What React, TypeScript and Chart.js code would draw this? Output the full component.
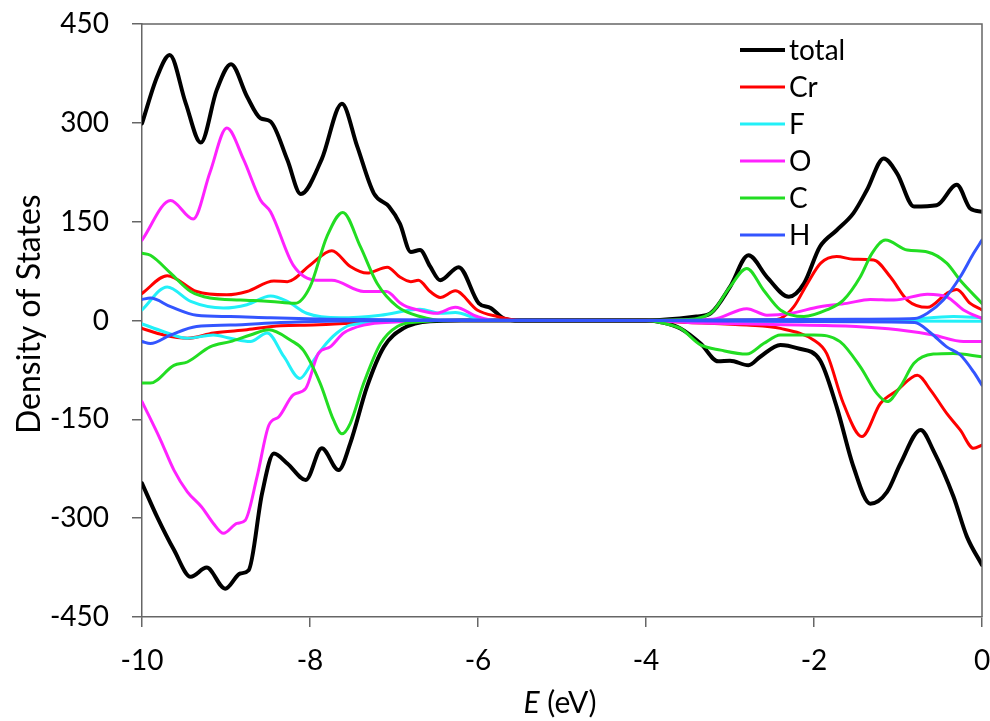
import React, { useEffect, useRef } from "react";
import { Chart, registerables } from "chart.js";

Chart.register(...registerables);

type P = [number, number];

// Energy (eV), density of states — spin up (positive) and spin down (negative)
const totalUp: P[] = [[-10,299],[-9.82,370],[-9.67,403],[-9.48,330],[-9.3,270],[-9.11,350],[-8.94,389],[-8.75,340],[-8.59,307],[-8.47,302],[-8.27,244],[-8.11,192],[-7.86,245],[-7.62,329],[-7.44,265],[-7.24,193],[-7.06,173],[-6.93,147],[-6.8,104],[-6.69,107],[-6.57,82],[-6.45,61],[-6.23,81],[-5.99,26],[-5.85,19],[-5.69,3],[-5.5,0],[-4,0],[-3.6,3],[-3.4,6],[-3.23,11],[-3.0,51],[-2.78,99],[-2.56,66],[-2.3,36],[-2.12,56],[-1.93,112],[-1.73,137],[-1.53,163],[-1.37,198],[-1.17,246],[-1.01,223],[-0.81,173],[-0.54,175],[-0.3,206],[-0.14,170],[0,165]];
const totalDown: P[] = [[-10,-247],[-9.82,-298],[-9.62,-348],[-9.42,-389],[-9.23,-375],[-9.01,-407],[-8.83,-384],[-8.73,-379],[-8.57,-262],[-8.43,-202],[-8.27,-217],[-8.05,-242],[-7.86,-194],[-7.66,-227],[-7.52,-186],[-7.32,-100],[-7.12,-40],[-6.89,-12],[-6.57,-1],[-6.2,0],[-4,0],[-3.8,-3],[-3.59,-12],[-3.35,-35],[-3.14,-62],[-3.0,-61],[-2.78,-68],[-2.64,-55],[-2.4,-37],[-2.2,-42],[-1.93,-60],[-1.73,-131],[-1.53,-222],[-1.33,-278],[-1.13,-260],[-0.97,-217],[-0.73,-166],[-0.58,-197],[-0.34,-267],[-0.18,-328],[0,-371]];

const crUp: P[] = [[-10,41],[-9.7,68],[-9.35,44],[-8.99,39],[-8.75,44],[-8.43,60],[-8.27,59],[-8.0,84],[-7.74,106],[-7.52,82],[-7.32,72],[-7.08,81],[-6.93,66],[-6.8,59],[-6.71,61],[-6.57,44],[-6.45,35],[-6.27,45],[-6.01,16],[-5.77,6],[-5.5,0],[-4,0],[-2.5,1],[-2.4,3],[-2.24,21],[-2.08,56],[-1.92,87],[-1.73,97],[-1.53,93],[-1.29,92],[-1.09,66],[-0.89,31],[-0.65,20],[-0.42,41],[-0.3,47],[-0.14,26],[0,16]];
const crDown: P[] = [[-10,-12],[-9.74,-22],[-9.46,-27],[-9.15,-19],[-8.75,-14],[-8.35,-8],[-7.96,-7],[-7.36,-3],[-6.8,0],[-4,0],[-3.5,-3],[-2.8,-7],[-2.4,-12],[-2.0,-30],[-1.85,-50],[-1.65,-126],[-1.43,-176],[-1.21,-126],[-1.01,-106],[-0.77,-83],[-0.61,-106],[-0.42,-141],[-0.26,-166],[-0.1,-194],[0,-189]];

const fUp: P[] = [[-10,16],[-9.7,51],[-9.42,29],[-9.03,19],[-8.75,24],[-8.47,37],[-8.27,29],[-8.04,11],[-7.64,4],[-7.16,8],[-6.69,17],[-6.45,11],[-6.27,12],[-6.01,3],[-5.8,0],[-4,0],[-1,1],[-0.34,6],[0,4]];
const fDown: P[] = [[-10,-5],[-9.74,-17],[-9.46,-27],[-9.15,-22],[-8.95,-27],[-8.71,-32],[-8.51,-19],[-8.31,-55],[-8.12,-88],[-7.98,-65],[-7.84,-40],[-7.68,-19],[-7.52,-7],[-7.0,-2],[-6.5,0],[-4,0],[0,-1]];

const oUp: P[] = [[-10,122],[-9.66,182],[-9.39,154],[-9.19,225],[-8.99,292],[-8.79,244],[-8.59,183],[-8.47,165],[-8.2,84],[-7.92,61],[-7.74,61],[-7.36,44],[-7.09,44],[-6.93,27],[-6.85,21],[-6.71,16],[-6.5,11],[-6.27,20],[-6.01,6],[-5.8,0],[-4,0],[-3.2,2],[-2.8,18],[-2.56,8],[-2.28,11],[-1.93,21],[-1.61,26],[-1.33,32],[-1.05,31],[-0.65,40],[-0.42,36],[-0.22,16],[0,3]];
const oDown: P[] = [[-10,-123],[-9.78,-181],[-9.62,-227],[-9.46,-260],[-9.29,-283],[-9.15,-308],[-9.03,-323],[-8.87,-308],[-8.77,-303],[-8.63,-237],[-8.49,-159],[-8.37,-146],[-8.2,-113],[-8.05,-103],[-7.9,-50],[-7.76,-40],[-7.6,-19],[-7.36,-7],[-6.96,-2],[-6.5,0],[-4,0],[-3.5,-3],[-2.5,-6],[-1.5,-9],[-1.0,-14],[-0.58,-22],[-0.22,-32],[0,-32]];

const cUp: P[] = [[-10,102],[-9.9,99],[-9.66,72],[-9.42,44],[-9.19,34],[-8.83,31],[-8.47,29],[-8.18,26],[-8.0,51],[-7.8,127],[-7.61,164],[-7.4,112],[-7.2,56],[-6.96,21],[-6.69,6],[-6.4,0],[-4,0],[-3.59,1],[-3.23,11],[-3.0,51],[-2.8,79],[-2.6,46],[-2.4,16],[-2.12,6],[-1.85,16],[-1.65,31],[-1.45,66],[-1.31,102],[-1.15,122],[-0.89,107],[-0.65,104],[-0.42,87],[-0.26,61],[0,26]];
const cDown: P[] = [[-10,-95],[-9.9,-95],[-9.62,-68],[-9.46,-63],[-9.19,-40],[-8.95,-32],[-8.71,-22],[-8.49,-14],[-8.23,-30],[-8.08,-45],[-7.88,-95],[-7.72,-151],[-7.62,-172],[-7.52,-156],[-7.36,-95],[-7.16,-35],[-6.96,-9],[-6.69,-2],[-6.3,0],[-4,0],[-3.8,-4],[-3.59,-12],[-3.35,-37],[-3.11,-45],[-2.8,-51],[-2.6,-35],[-2.4,-22],[-2.0,-22],[-1.69,-32],[-1.45,-70],[-1.25,-111],[-1.13,-123],[-0.97,-100],[-0.81,-65],[-0.58,-51],[-0.34,-50],[0,-55]];

const hUp: P[] = [[-10,32],[-9.9,34],[-9.66,21],[-9.35,8],[-8.95,6],[-8.47,4],[-7.8,2],[-7,1],[-4,0],[-1.5,2],[-0.8,3],[-0.65,11],[-0.46,31],[-0.26,66],[-0.1,102],[0,122]];
const hDown: P[] = [[-10,-32],[-9.9,-35],[-9.66,-22],[-9.35,-9],[-8.95,-7],[-8.35,-3],[-7.8,-1],[-7,0],[-4,0],[-1.5,-2],[-0.8,-3],[-0.61,-19],[-0.42,-40],[-0.26,-52],[-0.1,-78],[0,-98]];

const seriesNames = ["total", "Cr", "F", "O", "C", "H"];
const seriesColors = ["#000000", "#FF0000", "#22F0F8", "#FF22FF", "#22DD22", "#3355FF"];
const seriesWidths = [4, 3, 3, 3, 3, 3];
const seriesUp = [totalUp, crUp, fUp, oUp, cUp, hUp];
const seriesDown = [totalDown, crDown, fDown, oDown, cDown, hDown];

const xTicks = [-10, -8, -6, -4, -2, 0];
const yTicks = [-450, -300, -150, 0, 150, 300, 450];
const yTitle = "Density of States";
const xTitleItalic = "E";
const xTitleRest = " (eV)";

const FONT = "Lato, Carlito, 'Open Sans', sans-serif";
const AXIS = "#666666";

const framePlugin = {
  id: "frame",
  afterDraw(chart: any) {
    const { ctx, chartArea: a } = chart;
    ctx.save();
    ctx.strokeStyle = AXIS;
    ctx.lineWidth = 1.5;
    ctx.beginPath();
    ctx.moveTo(a.left, a.top);
    ctx.lineTo(a.right, a.top);
    ctx.lineTo(a.right, a.bottom);
    ctx.stroke();
    ctx.restore();
  },
};

const legendPlugin = {
  id: "insideLegend",
  afterDraw(chart: any) {
    const { ctx, chartArea: a } = chart;
    ctx.save();
    ctx.font = `28px ${FONT}`;
    ctx.textAlign = "left";
    ctx.textBaseline = "middle";
    seriesNames.forEach((name, i) => {
      const y = a.top + 26 + i * 37;
      const x0 = a.left + 598;
      ctx.strokeStyle = seriesColors[i];
      ctx.lineWidth = seriesWidths[i];
      ctx.beginPath();
      ctx.moveTo(x0, y);
      ctx.lineTo(x0 + 45, y);
      ctx.stroke();
      ctx.fillStyle = "#000";
      ctx.fillText(name, x0 + 49, y + 1);
    });
    ctx.restore();
  },
};

const titlesPlugin = {
  id: "axisTitles",
  afterDraw(chart: any) {
    const { ctx, chartArea: a } = chart;
    ctx.save();
    ctx.fillStyle = "#000";
    ctx.textBaseline = "middle";
    // x title with italic E
    ctx.textAlign = "left";
    const fi = `italic 30px ${FONT}`;
    const fn = `30px ${FONT}`;
    ctx.font = fi;
    const w1 = ctx.measureText(xTitleItalic).width;
    ctx.font = fn;
    const w2 = ctx.measureText(xTitleRest).width;
    const cx = (a.left + a.right) / 2 - 2;
    const x = cx - (w1 + w2) / 2;
    const y = 703;
    ctx.font = fi;
    ctx.fillText(xTitleItalic, x, y);
    ctx.font = fn;
    ctx.fillText(xTitleRest, x + w1, y);
    // y title, rotated
    ctx.font = `32px ${FONT}`;
    const wy = ctx.measureText(yTitle).width;
    ctx.translate(30, 434 - wy / 2);
    ctx.rotate(-Math.PI / 2);
    ctx.textAlign = "center";
    ctx.fillText(yTitle, 0, 0);
    ctx.restore();
  },
};

export default function App() {
  const ref = useRef<HTMLCanvasElement | null>(null);
  useEffect(() => {
    if (!ref.current) return;
    const datasets: any[] = [];
    seriesNames.forEach((name, i) => {
      [seriesUp[i], seriesDown[i]].forEach((arr, k) => {
        datasets.push({
          label: k === 0 ? name : name + " (down)",
          data: arr.map(([x, y]) => ({ x, y })),
          borderColor: seriesColors[i],
          backgroundColor: seriesColors[i],
          borderWidth: seriesWidths[i],
          pointRadius: 0,
          fill: false,
          cubicInterpolationMode: "monotone",
          borderCapStyle: "round",
          borderJoinStyle: "round",
          order: 6 - i,
        });
      });
    });
    const chart = new Chart(ref.current, {
      type: "line",
      data: { datasets },
      options: {
        animation: false,
        responsive: false,
        devicePixelRatio: 1,
        layout: { padding: { top: 24, right: 8, left: 0, bottom: 0 }, autoPadding: false },
        plugins: { legend: { display: false }, tooltip: { enabled: false } },
        scales: {
          x: {
            type: "linear",
            min: -10,
            max: 0,
            afterBuildTicks: (s: any) => {
              s.ticks = xTicks.map((v) => ({ value: v }));
            },
            afterFit: (s: any) => {
              s.height = 104;
              s.paddingLeft = 0;
              s.paddingRight = 0;
            },
            grid: { drawOnChartArea: false, drawTicks: true, tickLength: 10, color: AXIS, lineWidth: 1.5 },
            border: { display: true, color: AXIS, width: 1.5 },
            ticks: { font: { family: FONT, size: 28 }, color: "#000", padding: 17, maxRotation: 0, autoSkip: false },
            title: { display: false },
          },
          y: {
            type: "linear",
            min: -450,
            max: 450,
            afterBuildTicks: (s: any) => {
              s.ticks = yTicks.map((v) => ({ value: v }));
            },
            afterFit: (s: any) => {
              s.width = 142;
              s.paddingTop = 0;
              s.paddingBottom = 0;
            },
            grid: { drawOnChartArea: false, drawTicks: true, tickLength: 10, color: AXIS, lineWidth: 1.5 },
            border: { display: true, color: AXIS, width: 1.5 },
            ticks: { font: { family: FONT, size: 28 }, color: "#000", padding: 23, autoSkip: false },
            title: { display: false },
          },
        },
      },
      plugins: [framePlugin, legendPlugin, titlesPlugin],
    });
    return () => chart.destroy();
  }, []);
  return (
    <div style={{ position: "absolute", left: 0, top: 0, width: 990, height: 721, background: "#fff" }}>
      <canvas ref={ref} width={990} height={721} style={{ display: "block" }} />
    </div>
  );
}
